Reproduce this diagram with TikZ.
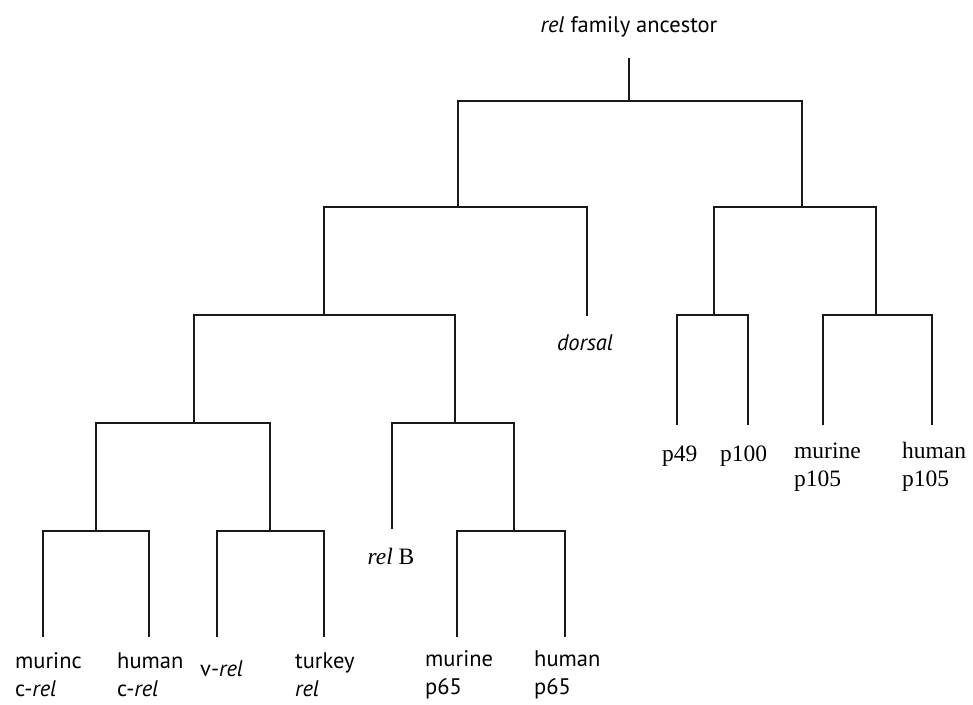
\documentclass[tikz,border=0pt]{standalone}
\usepackage{fontspec}
\setmainfont{Liberation Serif}
\newfontfamily\lblsans{PT Sans}
\begin{document}
\begin{tikzpicture}[x=1pt,y=-1pt,
  branch/.style={line width=1.4pt, draw=black!90},
  serlab/.style={inner sep=0pt, font=\fontsize{23.5}{28}\selectfont, align=left},
  sanlab/.style={inner sep=0pt, font=\lblsans\fontsize{22.5}{28}\selectfont, align=left}]
\useasboundingbox (0,0) rectangle (973,704);
\fill[white] (0,0) rectangle (973,704);

% junctions (x of vertical, y of bar)
\coordinate (rt) at (629,58);
\coordinate (n0) at (629,101);
\coordinate (nA) at (458,207);
\coordinate (nB) at (802,207);
\coordinate (ldorsal) at (587,316);
\coordinate (nC) at (324,315);
\coordinate (nD) at (714,315);
\coordinate (nE) at (876,315);
\coordinate (lp49) at (677,425);
\coordinate (lp100) at (748,425);
\coordinate (lmp105) at (823,425);
\coordinate (lhp105) at (932,425);
\coordinate (nF) at (194,423);
\coordinate (nG) at (455,423);
\coordinate (nH) at (96,531);
\coordinate (nI) at (270,531);
\coordinate (lrelB) at (392,529);
\coordinate (nJ) at (514,531);
\coordinate (lmc) at (43,637);
\coordinate (lhc) at (149,637);
\coordinate (lv) at (217,637);
\coordinate (lt) at (324,637);
\coordinate (lmp65) at (457,637);
\coordinate (lhp65) at (565,637);

% branches
\draw[branch] (n0) -- (rt);
\draw[branch] (nA) |- (n0) -| (nB);
\draw[branch] (nC) |- (nA) -| (ldorsal);
\draw[branch] (nD) |- (nB) -| (nE);
\draw[branch] (lp49) |- (nD) -| (lp100);
\draw[branch] (lmp105) |- (nE) -| (lhp105);
\draw[branch] (nF) |- (nC) -| (nG);
\draw[branch] (nH) |- (nF) -| (nI);
\draw[branch] (lrelB) |- (nG) -| (nJ);
\draw[branch] (lmc) |- (nH) -| (lhc);
\draw[branch] (lv) |- (nI) -| (lt);
\draw[branch] (lmp65) |- (nJ) -| (lhp65);

% labels
\node[sanlab] (anc) at (629,27) {\textit{rel} family ancestor};
\node[sanlab] (dorsal) at (585,343) {\textit{dorsal}};
\node[serlab] (relB) at (391,556) {\textit{rel}~B};
\node[serlab, anchor=west] (p49) at (662,456) {p49};
\node[serlab, anchor=west] (p100) at (720,456) {p100};
\node[serlab, anchor=west] (mp105) at (794,467) {murine\\p105};
\node[serlab, anchor=west] (hp105) at (902,467) {human\\p105};
\node[sanlab, anchor=west] (mc) at (15,675) {murinc\\c-\textit{rel}};
\node[sanlab, anchor=west] (hc) at (117,675) {human\\c-\textit{rel}};
\node[sanlab, anchor=west] (vrel) at (200,669) {v-\textit{rel}};
\node[sanlab, anchor=west] (turkey) at (295,675) {turkey\\\textit{rel}};
\node[sanlab, anchor=west] (mp65) at (425,675) {murine\\p65};
\node[sanlab, anchor=west] (hp65) at (534,675) {human\\p65};
\end{tikzpicture}
\end{document}
